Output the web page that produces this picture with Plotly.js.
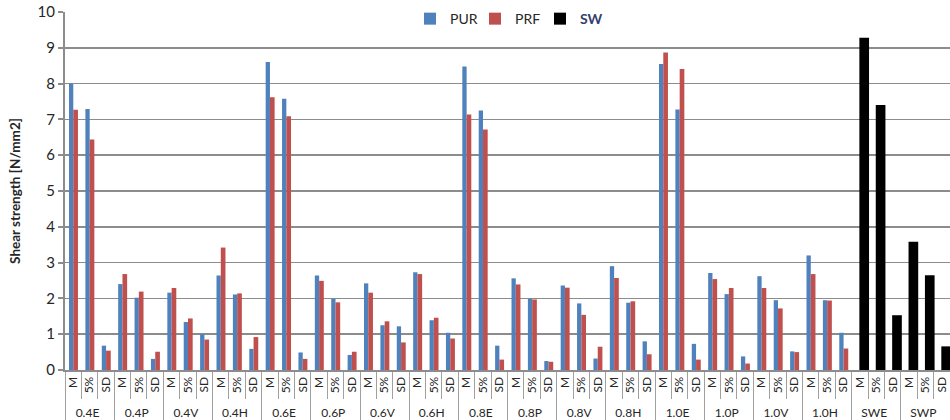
<!DOCTYPE html>
<html>
<head>
<meta charset="utf-8">
<script src="https://cdn.plot.ly/plotly-3.0.1.min.js"></script>
<style>html,body{margin:0;padding:0;background:#fff}#chart{width:950px;height:420px}</style>
</head>
<body>
<div id="chart"></div>
<script>
// Groups (specimen types) and sub-categories
const groups = ['0.4E','0.4P','0.4V','0.4H','0.6E','0.6P','0.6V','0.6H','0.8E','0.8P','0.8V','0.8H','1.0E','1.0P','1.0V','1.0H','SWE','SWP'];
const subs = ['M','5%','SD'];

// PUR values (M, 5%, SD per group, 0.4E .. 1.0H)
const pur = [
  8.00, 7.29, 0.68,
  2.40, 2.02, 0.31,
  2.16, 1.34, 1.00,
  2.64, 2.11, 0.59,
  8.60, 7.58, 0.49,
  2.64, 1.99, 0.42,
  2.42, 1.25, 1.22,
  2.73, 1.39, 1.04,
  8.48, 7.25, 0.68,
  2.56, 1.99, 0.25,
  2.36, 1.86, 0.32,
  2.90, 1.88, 0.80,
  8.55, 7.28, 0.73,
  2.71, 2.12, 0.38,
  2.62, 1.95, 0.52,
  3.20, 1.95, 1.04
];
// PRF values
const prf = [
  7.27, 6.44, 0.54,
  2.68, 2.19, 0.51,
  2.29, 1.44, 0.85,
  3.42, 2.14, 0.92,
  7.62, 7.09, 0.31,
  2.49, 1.89, 0.51,
  2.16, 1.36, 0.77,
  2.68, 1.46, 0.88,
  7.14, 6.72, 0.29,
  2.39, 1.97, 0.23,
  2.30, 1.54, 0.65,
  2.57, 1.92, 0.44,
  8.87, 8.41, 0.29,
  2.54, 2.29, 0.18,
  2.29, 1.72, 0.50,
  2.68, 1.94, 0.60
];
// SW values (SWE, SWP)
const sw = [
  9.28, 7.40, 1.53,
  3.58, 2.65, 0.66
];
const yTicks = [0,1,2,3,4,5,6,7,8,9,10];

// Build multicategory x arrays
const xg = [], xs = [];
groups.forEach(g => subs.forEach(s => { xg.push(g); xs.push(s); }));
const nBefore = xg.length - sw.length;
const yPur = pur.concat(Array(xg.length - pur.length).fill(null));
const yPrf = prf.concat(Array(xg.length - prf.length).fill(null));
const ySw = Array(nBefore).fill(null).concat(sw);

const FONT = 'Lato, "Open Sans", "Liberation Sans", sans-serif';

const traces = [
  {type:'bar', name:'PUR', x:[xg, xs], y:yPur, marker:{color:'#4f81bd'}, offset:-0.256, width:0.262},
  {type:'bar', name:'PRF', x:[xg, xs], y:yPrf, marker:{color:'#c0504d'}, offset:0.006, width:0.285},
  {type:'bar', name:'<b><span style="color:#34406e">SW</span></b>', x:[xg, xs], y:ySw, marker:{color:'#000000'}, offset:-0.03, width:0.59}
];

const layout = {
  width:950, height:420,
  margin:{l:65, r:0, t:12, b:50},
  paper_bgcolor:'#fff', plot_bgcolor:'#fff',
  font:{family:FONT, size:13, color:'#262626'},
  barmode:'overlay',
  showlegend:true,
  legend:{orientation:'h', x:0.5, xanchor:'center', y:1.025, yanchor:'top',
          font:{size:14, color:'#262626'}, bgcolor:'rgba(0,0,0,0)', itemwidth:30,
          entrywidth:20, entrywidthmode:'pixels', traceorder:'normal'},
  xaxis:{
    type:'multicategory',
    range:[-0.5, xg.length - 0.5],
    tickangle:-90,
    tickfont:{size:12, color:'#262626'},
    ticks:'outside', tickson:'boundaries', ticklen:27, tickcolor:'#a0a0a0', tickwidth:1,
    showdividers:true, dividercolor:'#a0a0a0', dividerwidth:1,
    showline:true, linecolor:'#8c8c8c', linewidth:2,
    showgrid:false, zeroline:false, automargin:false
  },
  yaxis:{
    range:[0,10], tickvals:yTicks, ticktext:yTicks.map(String),
    tickfont:{size:15, color:'#262626'},
    ticks:'outside', ticklen:5, tickcolor:'#8c8c8c', tickwidth:2,
    showline:true, linecolor:'#8c8c8c', linewidth:2,
    showgrid:true, gridcolor:'#8c8c8c', gridwidth:1.6,
    zeroline:false, automargin:false,
    title:{text:'<b>Shear strength [N/mm2]</b>', font:{size:13.5, color:'#262626'}, standoff:14}
  }
};

Plotly.newPlot('chart', traces, layout, {displayModeBar:false, staticPlot:true});
</script>
</body>
</html>
